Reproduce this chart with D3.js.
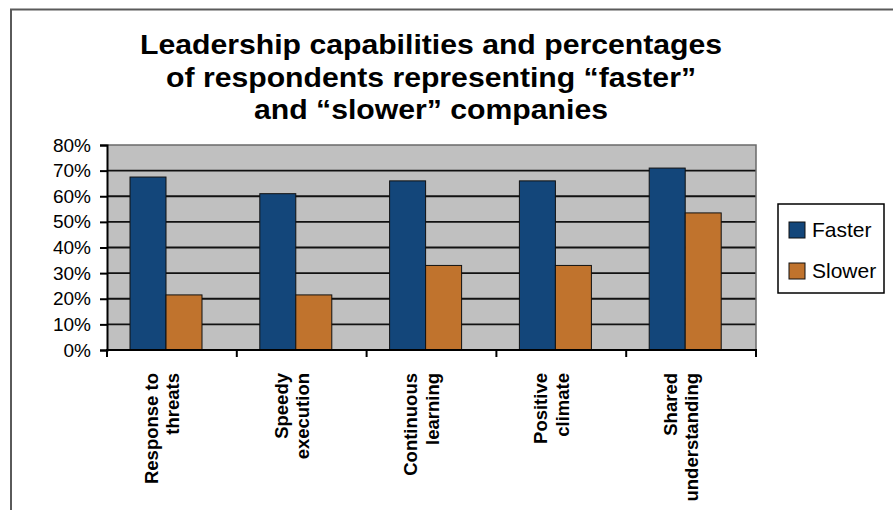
<!DOCTYPE html>
<html>
<head>
<meta charset="utf-8">
<script src="https://cdn.jsdelivr.net/npm/d3@7"></script>
<style>
  html, body { margin: 0; padding: 0; background: #ffffff; }
  svg { display: block; }
  text { font-family: "Liberation Sans", Arial, sans-serif; }
</style>
</head>
<body>
<svg id="chart" width="893" height="510"></svg>
<script>
// ---- data ----
const titleLines = ["Leadership capabilities and percentages",
                    "of respondents representing \u201cfaster\u201d",
                    "and \u201cslower\u201d companies"];
const categories = ["Response to threats", "Speedy execution", "Continuous learning",
                    "Positive climate", "Shared understanding"];
const categoryLines = [["Response to", "threats"], ["Speedy", "execution"],
                       ["Continuous", "learning"], ["Positive", "climate"],
                       ["Shared", "understanding"]];
const seriesNames = ["Faster", "Slower"];
const faster = [67.5, 61, 66, 66, 71];
const slower = [21.5, 21.5, 33, 33, 53.5];
const yTicks = [0, 10, 20, 30, 40, 50, 60, 70, 80];
const colors = ["#13467a", "#c0732d"];

// ---- layout ----
const svg = d3.select("#chart");
const plot = { left: 107, right: 756, top: 145, bottom: 350 };

// outer frame (top and left edges visible)
svg.append("path")
  .attr("d", "M11,510 L11,9.5 L893,9.5")
  .attr("fill", "none").attr("stroke", "#5a5a5a").attr("stroke-width", 2);

// title
const tg = svg.append("g").attr("transform", "translate(431,0) scale(1.078,1)");
const titleBaselines = [54.3, 86.7, 119];
titleLines.forEach((t, i) => {
  tg.append("text").attr("x", 0).attr("y", titleBaselines[i])
    .attr("text-anchor", "middle").attr("font-size", 28).attr("font-weight", "bold")
    .attr("fill", "#000").text(t);
});

// scales
const x0 = d3.scaleBand().domain(categories).range([plot.left, plot.right]).padding(0);
const x1 = d3.scaleBand().domain(seriesNames).range([23, 95]).padding(0);
const y = d3.scaleLinear().domain([0, 80]).range([plot.bottom, plot.top]);

// plot background
svg.append("rect")
  .attr("x", plot.left).attr("y", plot.top)
  .attr("width", plot.right - plot.left).attr("height", plot.bottom - plot.top)
  .attr("fill", "#c0c0c0");

// gridlines
svg.append("g").selectAll("line")
  .data(yTicks.filter(d => d > 0 && d < 80))
  .join("line")
  .attr("x1", plot.left).attr("x2", plot.right)
  .attr("y1", d => y(d)).attr("y2", d => y(d))
  .attr("stroke", "#111").attr("stroke-width", 1.8);

// plot border top/right
svg.append("path")
  .attr("d", `M${plot.left},${y(80)} L${plot.right},${y(80)} L${plot.right},${plot.bottom}`)
  .attr("fill", "none").attr("stroke", "#6a6a6a").attr("stroke-width", 1.5);

// bars
const rows = categories.map((c, i) => ({ cat: c, vals: [faster[i], slower[i]] }));
const groups = svg.append("g").selectAll("g")
  .data(rows).join("g")
  .attr("transform", d => `translate(${x0(d.cat)},0)`);
groups.selectAll("rect")
  .data(d => d.vals.map((v, j) => ({ s: seriesNames[j], v, j })))
  .join("rect")
  .attr("x", d => x1(d.s))
  .attr("width", x1.bandwidth())
  .attr("y", d => y(d.v))
  .attr("height", d => y(0) - y(d.v))
  .attr("fill", d => colors[d.j])
  .attr("stroke", "#111").attr("stroke-width", 1);

// y axis
const yAxis = svg.append("g").attr("transform", `translate(${plot.left},0)`)
  .call(d3.axisLeft(y).tickValues(yTicks).tickSize(7).tickPadding(9)
    .tickFormat(d => d + "%"));
yAxis.select(".domain").attr("stroke", "#000").attr("stroke-width", 2);
yAxis.selectAll(".tick line").attr("stroke", "#000").attr("stroke-width", 2);
yAxis.selectAll(".tick text").attr("font-size", 19).attr("fill", "#000")
  .attr("font-family", "'Liberation Sans', Arial, sans-serif");

// x axis
const xg = svg.append("g");
xg.append("line")
  .attr("x1", plot.left - 1).attr("x2", plot.right + 1)
  .attr("y1", y(0)).attr("y2", y(0))
  .attr("stroke", "#000").attr("stroke-width", 2);
const bounds = categories.map(c => x0(c)).concat([x0.range()[1]]);
xg.selectAll("line.tick").data(bounds).join("line").attr("class", "tick")
  .attr("x1", d => d).attr("x2", d => d)
  .attr("y1", y(0)).attr("y2", y(0) + 7)
  .attr("stroke", "#000").attr("stroke-width", 2);

// x labels (rotated, two lines, right-aligned at top)
const lineH = 21.5;
categoryLines.forEach((lines, i) => {
  const cx = x0(categories[i]) + (x1.range()[0] + x1.range()[1]) / 2 - 4;
  const n = lines.length;
  const g = svg.append("g").attr("transform", `translate(${cx},373) rotate(-90)`);
  lines.forEach((l, k) => {
    // baseline offset: block centered on cx
    const yy = (k - (n - 1) / 2) * lineH + 6.5;
    g.append("text").attr("x", 0).attr("y", yy)
      .attr("text-anchor", "end").attr("font-size", 18.5).attr("font-weight", "bold")
      .attr("fill", "#000").text(l);
  });
});

// legend
const lg = svg.append("g");
lg.append("rect").attr("x", 778).attr("y", 204).attr("width", 106).attr("height", 89)
  .attr("fill", "#fff").attr("stroke", "#000").attr("stroke-width", 1.5);
const legendY = [222, 263];
seriesNames.forEach((s, j) => {
  lg.append("rect").attr("x", 789).attr("y", legendY[j]).attr("width", 16).attr("height", 16)
    .attr("fill", colors[j]).attr("stroke", "#111").attr("stroke-width", 1);
  lg.append("text").attr("x", 812).attr("y", legendY[j] + 15)
    .attr("font-size", 21).attr("fill", "#000").text(s);
});
</script>
</body>
</html>
